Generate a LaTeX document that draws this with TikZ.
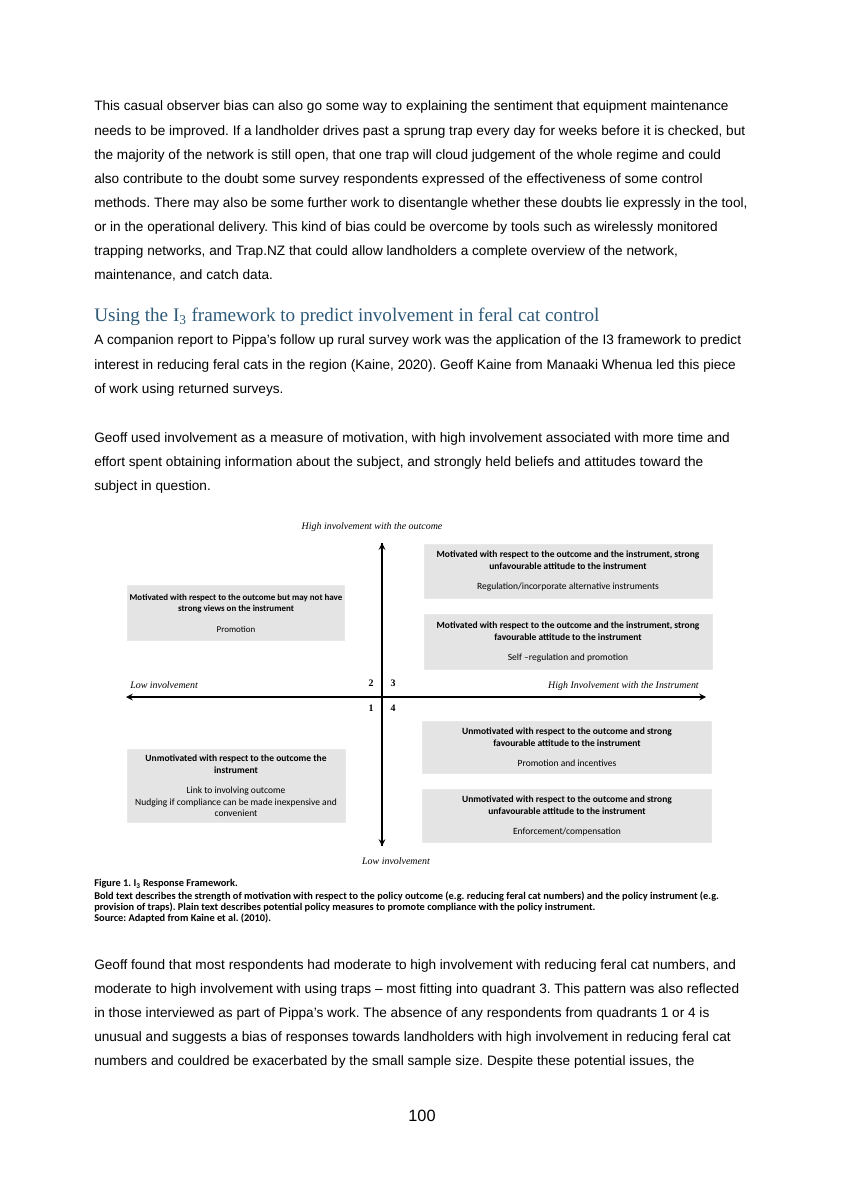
\documentclass[tikz,border=0pt]{standalone}
\usepackage{fontspec}
\setmainfont{Liberation Sans}
\newfontfamily\headfont{Liberation Serif}
\newfontfamily\boxfont{Carlito}
\newfontfamily\axisfont{Liberation Serif}
\definecolor{headblue}{HTML}{2E5A78}
\definecolor{boxgray}{HTML}{E4E4E4}
\frenchspacing
\tikzset{
  bodyline/.style={anchor=mid west, inner sep=0pt, font=\fontsize{9.6}{12}\selectfont},
  quadbox/.style={fill=boxgray, draw=boxgray!80!white, align=center, inner sep=0pt, font=\boxfont\fontsize{6.7}{8.2}\selectfont},
  axislabel/.style={inner sep=0pt, font=\axisfont\itshape\fontsize{7}{8}\selectfont},
  quadnum/.style={inner sep=0pt, font=\axisfont\bfseries\fontsize{7}{8}\selectfont},
  capline/.style={anchor=mid west, inner sep=0pt, font=\boxfont\bfseries\fontsize{7.3}{8}\selectfont}
}
\begin{document}
\begin{tikzpicture}[x=0.705pt, y=-0.705pt, >=stealth]
  \useasboundingbox[fill=white] (0,0) rectangle (844,1193);

  % first paragraph
  \node[bodyline] (p1a) at (94,107) {This casual observer bias can also go some way to explaining the sentiment that equipment maintenance};
  \node[bodyline] (p1b) at (94,132) {needs to be improved. If a landholder drives past a sprung trap every day for weeks before it is checked, but};
  \node[bodyline] (p1c) at (94,156) {the majority of the network is still open, that one trap will cloud judgement of the whole regime and could};
  \node[bodyline] (p1d) at (94,180) {also contribute to the doubt some survey respondents expressed of the effectiveness of some control};
  \node[bodyline] (p1e) at (94,204) {methods. There may also be some further work to disentangle whether these doubts lie expressly in the tool,};
  \node[bodyline] (p1f) at (94,228) {or in the operational delivery. This kind of bias could be overcome by tools such as wirelessly monitored};
  \node[bodyline] (p1g) at (94,252) {trapping networks, and Trap.NZ that could allow landholders a complete overview of the network,};
  \node[bodyline] (p1h) at (94,276) {maintenance, and catch data.};

  \node[anchor=mid west, inner sep=0pt, text=headblue, font=\headfont\fontsize{13.5}{15}\selectfont] (head) at (94,318)
    {Using the I\textsubscript{3} framework to predict involvement in feral cat control};

  \node[bodyline] (p2a) at (94,341) {A companion report to Pippa's follow up rural survey work was the application of the I3 framework to predict};
  \node[bodyline] (p2b) at (94,366) {interest in reducing feral cats in the region (Kaine, 2020). Geoff Kaine from Manaaki Whenua led this piece};
  \node[bodyline] (p2c) at (94,390) {of work using returned surveys.};

  \node[bodyline] (p3a) at (94,439) {Geoff used involvement as a measure of motivation, with high involvement associated with more time and};
  \node[bodyline] (p3b) at (94,463) {effort spent obtaining information about the subject, and strongly held beliefs and attitudes toward the};
  \node[bodyline] (p3c) at (94,487) {subject in question.};

  % figure
  \coordinate (top) at (382,543);
  \coordinate (bottom) at (382,846);
  \coordinate (left) at (126,697);
  \coordinate (right) at (706,697);
  \draw[->, line width=1.1pt] (bottom) -- (top);
  \draw[->, line width=1.1pt] (top) -- (bottom);
  \draw[<->, line width=1.1pt] (left) -- (right);

  \node[axislabel] (hiout) at (372,527) {High involvement with the outcome};
  \node[axislabel] (loout) at (396,861) {Low involvement};
  \node[axislabel, anchor=west] (loins) at (130,685) {Low involvement};
  \node[axislabel, anchor=east] (hiins) at (699,686) {High Involvement with the Instrument};
  \node[quadnum] (q2) at (371,683) {2};
  \node[quadnum] (q3) at (393,683) {3};
  \node[quadnum] (q1) at (371,708) {1};
  \node[quadnum] (q4) at (393,708) {4};

  \node[quadbox, minimum width=288*0.705pt, minimum height=54*0.705pt] (b3top) at (568,571)
    {\textbf{Motivated with respect to the outcome and the instrument, strong}\\\textbf{unfavourable attitude to the instrument}\\[6pt]Regulation/incorporate alternative instruments};
  \node[quadbox, minimum width=288*0.705pt, minimum height=55*0.705pt] (b3bot) at (568,642)
    {\textbf{Motivated with respect to the outcome and the instrument, strong}\\\textbf{favourable attitude to the instrument}\\[6pt]Self \textendash regulation and promotion};
  \node[quadbox, font=\boxfont\fontsize{6.3}{8.2}\selectfont, minimum width=217*0.705pt, minimum height=55*0.705pt] (b2) at (236,613)
    {\textbf{Motivated with respect to the outcome but may not have}\\\textbf{strong views on the instrument}\\[6pt]Promotion};
  \node[quadbox, minimum width=289*0.705pt, minimum height=52*0.705pt] (b4top) at (567,747)
    {\textbf{Unmotivated with respect to the outcome and strong}\\\textbf{favourable attitude to the instrument}\\[6pt]Promotion and incentives};
  \node[quadbox, minimum width=289*0.705pt, minimum height=53*0.705pt] (b4bot) at (567,816)
    {\textbf{Unmotivated with respect to the outcome and strong}\\\textbf{unfavourable attitude to the instrument}\\[6pt]Enforcement/compensation};
  \node[quadbox, minimum width=218*0.705pt, minimum height=73*0.705pt] (b1) at (236,786)
    {\textbf{Unmotivated with respect to the outcome the}\\\textbf{instrument}\\[6pt]Link to involving outcome\\Nudging if compliance can be made inexpensive and\\convenient};

  % caption
  \node[capline] (capa) at (94,883) {Figure 1. I\textsubscript{3} Response Framework.};
  \node[capline] (capb) at (94,896) {Bold text describes the strength of motivation with respect to the policy outcome (e.g. reducing feral cat numbers) and the policy instrument (e.g.};
  \node[capline] (capc) at (94,907) {provision of traps). Plain text describes potential policy measures to promote compliance with the policy instrument.};
  \node[capline] (capd) at (94,918) {Source: Adapted from Kaine et al. (2010).};

  % last paragraph
  \node[bodyline] (p4a) at (94,966) {Geoff found that most respondents had moderate to high involvement with reducing feral cat numbers, and};
  \node[bodyline] (p4b) at (94,990) {moderate to high involvement with using traps -- most fitting into quadrant 3. This pattern was also reflected};
  \node[bodyline] (p4c) at (94,1014) {in those interviewed as part of Pippa's work. The absence of any respondents from quadrants 1 or 4 is};
  \node[bodyline] (p4d) at (94,1038) {unusual and suggests a bias of responses towards landholders with high involvement in reducing feral cat};
  \node[bodyline] (p4e) at (94,1062) {numbers and couldred be exacerbated by the small sample size. Despite these potential issues, the};

  \node[inner sep=0pt, font=\fontsize{11.5}{13}\selectfont] (pageno) at (422,1116) {100};
\end{tikzpicture}
\end{document}
